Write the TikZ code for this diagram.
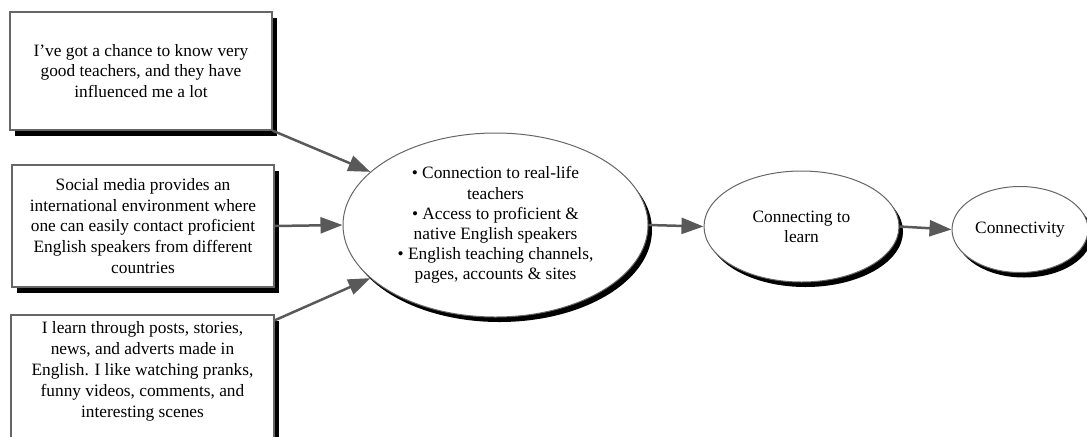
\documentclass[tikz,border=0pt]{standalone}
\usepackage{fontspec}
\setmainfont{Liberation Serif}
\usetikzlibrary{shapes.geometric,shadows,arrows.meta,calc}

\newlength{\du}
\setlength{\du}{0.75pt}

\definecolor{boxlinecolor}{rgb}{0.400000, 0.400000, 0.400000}
\definecolor{arrowcolor}{rgb}{0.350000, 0.350000, 0.350000}

\tikzset{
  quotebox/.style={draw=boxlinecolor, fill=white, line width=1.3\du, inner sep=0pt,
    align=center, font=\fontsize{13}{15.6}\selectfont,
    drop shadow={shadow xshift=5\du, shadow yshift=-6\du, fill=black, opacity=1}},
  themeoval/.style={ellipse, draw=boxlinecolor, fill=white, line width=1\du, inner sep=0pt,
    align=center, font=\fontsize{13}{15.1}\selectfont,
    drop shadow={shadow xshift=4\du, shadow yshift=-5\du, fill=black, opacity=1}},
  flowarrow/.style={draw=arrowcolor, line width=2.5\du, -{Triangle[length=16.5pt, width=12pt]}}
}

\begin{document}
\begin{tikzpicture}
\pgftransformxscale{1.000000}
\pgftransformyscale{-1.000000}
\useasboundingbox (0\du,0\du) rectangle (1087\du,436\du);
% quote boxes
\node[quotebox, minimum width=262\du, minimum height=118\du] (quoteA) at (141\du,71\du)
  {I've got a chance to know very\\good teachers, and they have\\influenced me a lot};
\node[quotebox, minimum width=262\du, minimum height=122\du] (quoteB) at (143\du,226\du)
  {Social media provides an\\international environment where\\one can easily contact proficient\\English speakers from different\\countries};
% runs off the bottom of the page
\node[quotebox, minimum width=263\du, text height=102\du, text depth=43\du] (quoteC) at (142.5\du,387.5\du)
  {I learn through posts, stories,\\news, and adverts made in\\English. I like watching pranks,\\funny videos, comments, and\\interesting scenes};
% themes
\node[themeoval, minimum width=305\du, minimum height=184\du] (affordance) at (495.5\du,225\du)
  {\textbullet{} Connection to real-life\\teachers\\\textbullet{} Access to proficient \&\\native English speakers\\\textbullet{} English teaching channels,\\pages, accounts \& sites};
\node[themeoval, minimum width=195\du, minimum height=111\du] (learning) at (801.5\du,226.5\du)
  {Connecting to\\learn};
\node[themeoval, minimum width=136\du, minimum height=86\du] (connectivity) at (1020\du,229.5\du)
  {Connectivity};
% arrows
\draw[flowarrow] (quoteA.south east) -- (affordance.157);
\draw[flowarrow] (quoteB.east) -- (affordance.west);
\draw[flowarrow] ($(quoteC.north east)+(0\du,6\du)$) -- (affordance.203);
\draw[flowarrow] (affordance.east) -- (learning.west);
\draw[flowarrow] (learning.east) -- (connectivity.west);
\end{tikzpicture}
\end{document}
